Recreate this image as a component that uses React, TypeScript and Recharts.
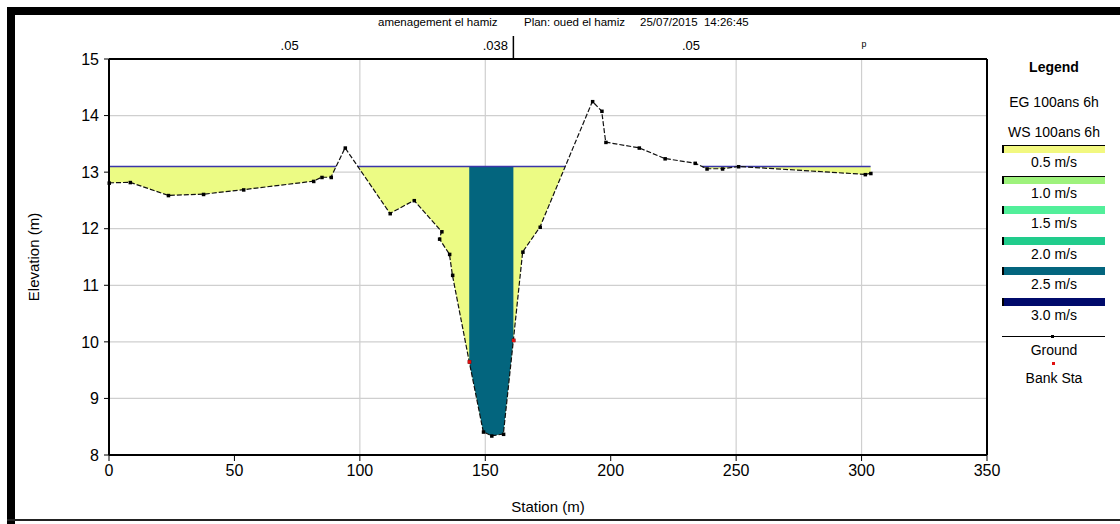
import React from 'react';
import {
  ComposedChart,
  Area,
  Line,
  Scatter,
  XAxis,
  YAxis,
  CartesianGrid,
  ReferenceLine,
} from 'recharts';

// ---- data ----
const groundStation = [
  0, 8.4, 23.6, 37.6, 53.6, 81.5, 84.8, 88.5, 94.1, 112.0, 121.6, 132.6, 131.7,
  135.7, 136.9, 143.6, 149.2, 152.5, 157.2, 161.2, 164.9, 171.8, 192.7, 196.4,
  198.0, 211.3, 221.6, 233.6, 238.3, 244.5, 250.9, 301.4, 303.6,
];
const groundElev = [
  12.81, 12.82, 12.59, 12.61, 12.69, 12.84, 12.91, 12.91, 13.43, 12.27, 12.5,
  11.95, 11.82, 11.55, 11.18, 9.65, 8.41, 8.34, 8.37, 10.03, 11.59, 12.03,
  14.25, 14.08, 13.53, 13.43, 13.24, 13.16, 13.06, 13.06, 13.1, 12.96, 12.98,
];
const wsElev = 13.1;
const bankStations = [143.6, 161.2];
const bankElevs = [9.65, 10.03];

const xTicks = [0, 50, 100, 150, 200, 250, 300, 350];
const yTicks = [8, 9, 10, 11, 12, 13, 14, 15];
const gridStations = [100, 150, 250, 300];
const xDomain = [0, 350];

const nLabelStations = [72, 154, 232, 301];
const nLabels = ['.05', '.038', '.05', 'ᵖ'];
const nChangeStations = [161.2];

const titleParts = ['amenagement el hamiz', 'Plan: oued el hamiz', '25/07/2015  14:26:45'];

const legendTextItems = ['EG 100ans 6h', 'WS 100ans 6h'];
const velLabels = ['0.5 m/s', '1.0 m/s', '1.5 m/s', '2.0 m/s', '2.5 m/s', '3.0 m/s'];
const velColors = ['#f2f880', '#9ef27c', '#52ef9a', '#21cc8c', '#03657e', '#000a6b'];

// ---- derived tables ----
const groundData = groundStation.map((s, i) => ({ s, e: groundElev[i] }));
const bankData = bankStations.map((s, i) => ({ s, e: bankElevs[i] }));

function buildWet(ws: number) {
  const out: any[] = [];
  for (let i = 0; i < groundData.length; i++) {
    const p = groundData[i];
    if (p.e <= ws) out.push({ s: p.s, band: [p.e, ws], ws });
    if (i < groundData.length - 1) {
      const q = groundData[i + 1];
      if ((p.e - ws) * (q.e - ws) < 0) {
        const t = (ws - p.e) / (q.e - p.e);
        const sc = p.s + t * (q.s - p.s);
        out.push({ s: sc, band: [ws, ws], ws });
        if (q.e > ws) out.push({ s: sc, band: null, ws: null });
      }
    }
  }
  return out;
}
const wetData = buildWet(wsElev);
const channelData = groundData
  .filter((p) => p.s >= bankStations[0] && p.s <= bankStations[1])
  .map((p) => ({ s: p.s, band: [p.e, wsElev] }));

const FONT = '"Liberation Sans", Arial, sans-serif';

const GroundDot = (props: any) => {
  const { cx, cy } = props;
  if (cx == null || cy == null) return null;
  return <rect x={cx - 1.5} y={cy - 1.5} width={3.5} height={3.5} fill="#000" />;
};

const BankDot = (props: any) => {
  const { cx, cy } = props;
  return <rect x={cx - 1.5} y={cy - 1.5} width={3.5} height={3.5} fill="#e01010" />;
};

const TopTick = (props: any) => {
  const { x, y, payload } = props;
  const idx = nLabelStations.indexOf(payload.value);
  if (idx >= 0) {
    return (
      <text x={x} y={y} dy="0.35em" textAnchor="middle" fontSize={13} fill="#000" fontFamily={FONT}>
        {nLabels[idx]}
      </text>
    );
  }
  return <line x1={x} x2={x} y1={y - 9} y2={y + 14} stroke="#000" strokeWidth={1.5} />;
};

const verticalGen = (args: any) => {
  const { xAxis, offset } = args || {};
  if (xAxis && typeof xAxis.scale === 'function') {
    return gridStations.map((g) => xAxis.scale(g));
  }
  const o = offset || { left: 109, width: 878 };
  return gridStations.map((g) => o.left + ((g - xDomain[0]) / (xDomain[1] - xDomain[0])) * o.width);
};

export default function App() {
  return (
    <div
      style={{
        position: 'absolute',
        left: 0,
        top: 0,
        width: 1120,
        height: 524,
        background: '#fff',
        fontFamily: FONT,
        overflow: 'hidden',
      }}
    >
      {/* title */}
      <div style={{ position: 'absolute', left: 378, top: 16, fontSize: 11.5, color: '#000', whiteSpace: 'pre' }}>
        {titleParts[0]}
      </div>
      <div style={{ position: 'absolute', left: 524, top: 16, fontSize: 11.5, color: '#000', whiteSpace: 'pre' }}>
        {titleParts[1]}
      </div>
      <div style={{ position: 'absolute', left: 640, top: 16, fontSize: 11.5, color: '#000', whiteSpace: 'pre' }}>
        {titleParts[2]}
      </div>

      <div style={{ position: 'absolute', left: 0, top: 0 }}>
        <ComposedChart
          width={1120}
          height={524}
          margin={{ top: 35, right: 133, bottom: 20, left: 29 }}
          style={{ fontFamily: FONT }}
        >
          <CartesianGrid
            stroke="#cfcfcf"
            strokeWidth={1.2}
            verticalCoordinatesGenerator={verticalGen}
          />
          <XAxis
            dataKey="s"
            type="number"
            domain={xDomain}
            ticks={xTicks}
            interval={0}
            height={49}
            axisLine={{ stroke: '#000', strokeWidth: 2 }}
            tickLine={{ stroke: '#000' }}
            tickSize={6}
            tickMargin={4}
            tick={{ fontSize: 16, fill: '#000', fontFamily: FONT }}
            label={{ value: 'Station (m)', position: 'insideBottom', offset: -8, fontSize: 15, fill: '#000' }}
          />
          <XAxis
            xAxisId="top"
            orientation="top"
            dataKey="s"
            type="number"
            domain={xDomain}
            ticks={[...nLabelStations, ...nChangeStations]}
            interval={0}
            height={24}
            axisLine={{ stroke: '#000', strokeWidth: 2 }}
            tickLine={false}
            tickSize={0}
            tickMargin={14}
            tick={<TopTick />}
          />
          <YAxis
            type="number"
            domain={[8, 15]}
            ticks={yTicks}
            interval={0}
            width={80}
            axisLine={{ stroke: '#000', strokeWidth: 2 }}
            tickLine={{ stroke: '#000' }}
            tickSize={5}
            tickMargin={5}
            tick={{ fontSize: 16, fill: '#000', fontFamily: FONT }}
            label={(p: any) => {
              const vb = p.viewBox || {};
              const cx = (vb.x ?? 29) + 4;
              const cy = (vb.y ?? 59) + (vb.height ?? 396) / 2;
              return (
                <text
                  x={cx}
                  y={cy}
                  transform={`rotate(-90 ${cx} ${cy})`}
                  textAnchor="middle"
                  dominantBaseline="central"
                  fontSize={15}
                  fill="#000"
                  fontFamily={FONT}
                >
                  Elevation (m)
                </text>
              );
            }}
          />
          <ReferenceLine x={350} stroke="#000" strokeWidth={2} />

          <Area
            data={wetData}
            dataKey="band"
            type="linear"
            fill="#ecfb84"
            fillOpacity={1}
            stroke="none"
            connectNulls={false}
            isAnimationActive={false}
            activeDot={false}
          />
          <Area
            data={channelData}
            dataKey="band"
            type="linear"
            fill="#03657e"
            fillOpacity={1}
            stroke="none"
            isAnimationActive={false}
            activeDot={false}
          />
          <Line
            data={wetData}
            dataKey="ws"
            type="linear"
            stroke="#3a36a8"
            strokeWidth={1.5}
            dot={false}
            activeDot={false}
            connectNulls={false}
            isAnimationActive={false}
          />
          <Line
            data={groundData}
            dataKey="e"
            type="linear"
            stroke="#111"
            strokeWidth={1.2}
            strokeDasharray="5 2"
            dot={<GroundDot />}
            activeDot={false}
            isAnimationActive={false}
          />
          <Line
            xAxisId="top"
            data={groundData}
            dataKey="e"
            stroke="none"
            dot={false}
            activeDot={false}
            isAnimationActive={false}
          />
          <Scatter data={bankData} dataKey="e" shape={<BankDot />} isAnimationActive={false} />
        </ComposedChart>
      </div>

      {/* frame */}
      <div style={{ position: 'absolute', left: 7, top: 7, width: 8, height: 517, background: '#000' }} />
      <div style={{ position: 'absolute', left: 7, top: 7, width: 1113, height: 8, background: '#000' }} />
      <div style={{ position: 'absolute', left: 7, top: 519, width: 1113, height: 2, background: '#222' }} />

      {/* legend */}
      <div style={{ position: 'absolute', left: 1000, top: 0, width: 108, height: 400, color: '#000' }}>
        <div style={{ position: 'absolute', top: 59, width: 108, textAlign: 'center', fontSize: 14, fontWeight: 'bold' }}>
          Legend
        </div>
        {legendTextItems.map((t, i) => (
          <div
            key={t}
            style={{ position: 'absolute', top: 94 + i * 30, width: 108, textAlign: 'center', fontSize: 14, whiteSpace: 'nowrap' }}
          >
            {t}
          </div>
        ))}
        {velLabels.map((t, i) => (
          <React.Fragment key={t}>
            <div
              style={{
                position: 'absolute',
                left: 2,
                top: 145 + i * 30.5,
                width: 103,
                height: 8,
                background: velColors[i],
                borderLeft: '2px solid #000',
                borderTop: i < 2 ? '1px solid #000' : 'none',
                boxSizing: 'border-box',
              }}
            />
            <div
              style={{ position: 'absolute', top: 154 + i * 30.5, width: 108, textAlign: 'center', fontSize: 14, whiteSpace: 'nowrap' }}
            >
              {t}
            </div>
          </React.Fragment>
        ))}
        <div style={{ position: 'absolute', left: 2, top: 336, width: 103, height: 1, background: '#000' }} />
        <div style={{ position: 'absolute', left: 51, top: 335, width: 3, height: 3, background: '#000' }} />
        <div style={{ position: 'absolute', top: 342, width: 108, textAlign: 'center', fontSize: 14 }}>Ground</div>
        <div style={{ position: 'absolute', left: 52, top: 362, width: 3, height: 3, background: '#e01010' }} />
        <div style={{ position: 'absolute', top: 370, width: 108, textAlign: 'center', fontSize: 14 }}>Bank Sta</div>
      </div>
    </div>
  );
}
